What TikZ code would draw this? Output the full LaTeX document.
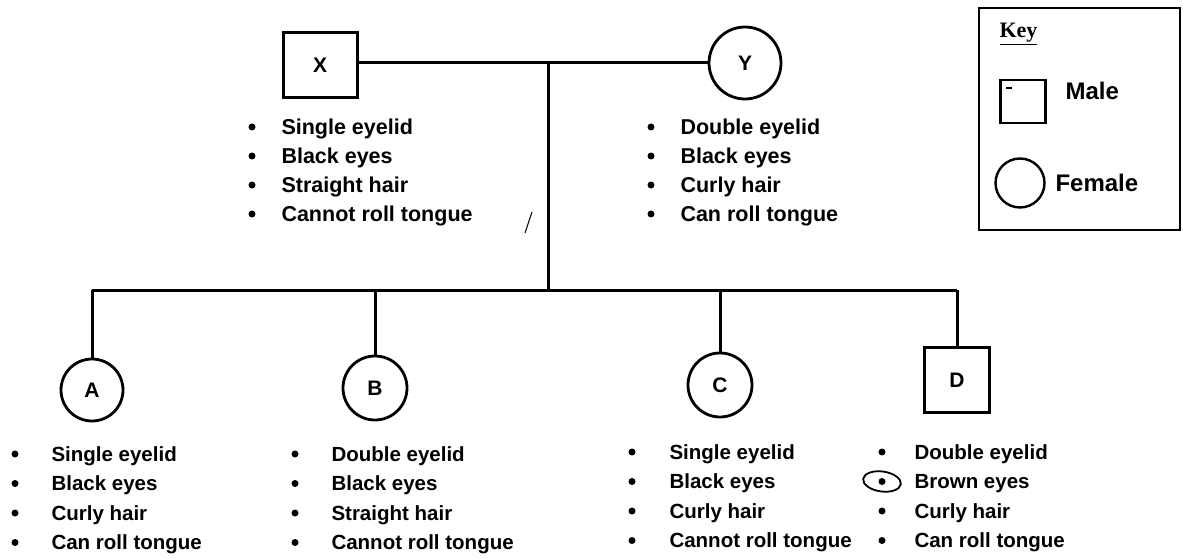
\documentclass[tikz,border=0pt]{standalone}
\usepackage{fontspec}
\setmainfont{Liberation Sans}
\newfontfamily\keyserif{Liberation Serif}
\usetikzlibrary{calc}
\begin{document}
\begin{tikzpicture}[x=1pt,y=-1pt,line width=3pt,
  txt/.style={font=\fontsize{20.5}{24}\bfseries\selectfont,anchor=base west,inner sep=0pt},
  ptxt/.style={txt,font=\fontsize{21.5}{24}\bfseries\selectfont},
  ktxt/.style={txt,font=\fontsize{24}{26}\bfseries\selectfont},
  lbl/.style={font=\fontsize{21}{24}\bfseries\selectfont},
  malebox/.style={draw,rectangle,line width=3pt,inner sep=0pt},
  femcirc/.style={draw,circle,line width=2.8pt,inner sep=0pt},
  dot/.style={fill,circle,inner sep=0pt,minimum size=7pt}]
\useasboundingbox (0,0) rectangle (1183,559);
% parents
\node[malebox,lbl,minimum width=74pt,minimum height=65pt] (X) at (320,65) {X};
\node[femcirc,lbl,minimum size=72pt] (Y) at (745,63) {Y};
\coordinate (j) at (548,63);
\coordinate (s) at (548,290);
\draw (X.east |- j) -- (Y);
\draw (j) -- (s);
% children
\node[femcirc,lbl,minimum size=62pt] (A) at (92,390) {A};
\node[femcirc,lbl,minimum size=64pt] (B) at (375,388) {B};
\node[femcirc,lbl,minimum size=64pt] (C) at (720,385) {C};
\node[malebox,lbl,minimum width=65pt,minimum height=65pt] (D) at (957,380) {D};
\draw (A |- s) -- (D |- s);
\foreach \n in {A,B,C,D} \draw (\n |- s) -- (\n);
% parent lists
\foreach \t [count=\i from 0] in {Single eyelid,Black eyes,Straight hair,Cannot roll tongue}
  {\node[dot] (xb\i) at (252,127+29*\i) {}; \node[ptxt] (xt\i) at (280,134.5+29*\i) {\t};}
\foreach \t [count=\i from 0] in {Double eyelid,Black eyes,Curly hair,Can roll tongue}
  {\node[dot] (yb\i) at (651,127+29*\i) {}; \node[ptxt] (yt\i) at (679,134.5+29*\i) {\t};}
% children lists
\foreach \t [count=\i from 0] in {Single eyelid,Black eyes,Curly hair,Can roll tongue}
  {\node[dot] (ab\i) at (15,454+29.5*\i) {}; \node[txt] (at\i) at (50,461+29.5*\i) {\t};}
\foreach \t [count=\i from 0] in {Double eyelid,Black eyes,Straight hair,Cannot roll tongue}
  {\node[dot] (bb\i) at (295,454+29.5*\i) {}; \node[txt] (bt\i) at (330,461+29.5*\i) {\t};}
\foreach \t [count=\i from 0] in {Single eyelid,Black eyes,Curly hair,Cannot roll tongue}
  {\node[dot] (cb\i) at (632,452+29.5*\i) {}; \node[txt] (ct\i) at (668,459+29.5*\i) {\t};}
\foreach \t [count=\i from 0] in {Double eyelid,Brown eyes,Curly hair,Can roll tongue}
  {\node[dot] (db\i) at (882,452+29.5*\i) {}; \node[txt] (dt\i) at (913,459+29.5*\i) {\t};}
% hand-drawn ring round one bullet
\draw[line width=1.8pt,rotate around={-8:(db1)}] (db1) ellipse (19pt and 10pt);
% stray pencil stroke
\draw[line width=1pt] (532,212) -- (525,233);
% key
\node[draw,line width=2.6pt,minimum width=201pt,minimum height=222pt,inner sep=0pt] (key) at (1079.5,119) {};
\node[font=\keyserif\bfseries\fontsize{22}{24}\selectfont,anchor=base west,inner sep=0pt] (keyt) at (998,38) {\underline{Key}};
\node[draw,line width=2.4pt,minimum width=45pt,minimum height=43pt,inner sep=0pt] (km) at (1023,101.5) {};
\draw[line width=2.2pt] ($(km.north west)+(7,9)$) -- ++(6,0);
\node[ktxt] (kmt) at (1064,99.5) {Male};
\node[draw,circle,line width=2.4pt,minimum size=49pt,inner sep=0pt] (kf) at (1020,183) {};
\node[ktxt] (kft) at (1054,191.5) {Female};
\end{tikzpicture}
\end{document}
